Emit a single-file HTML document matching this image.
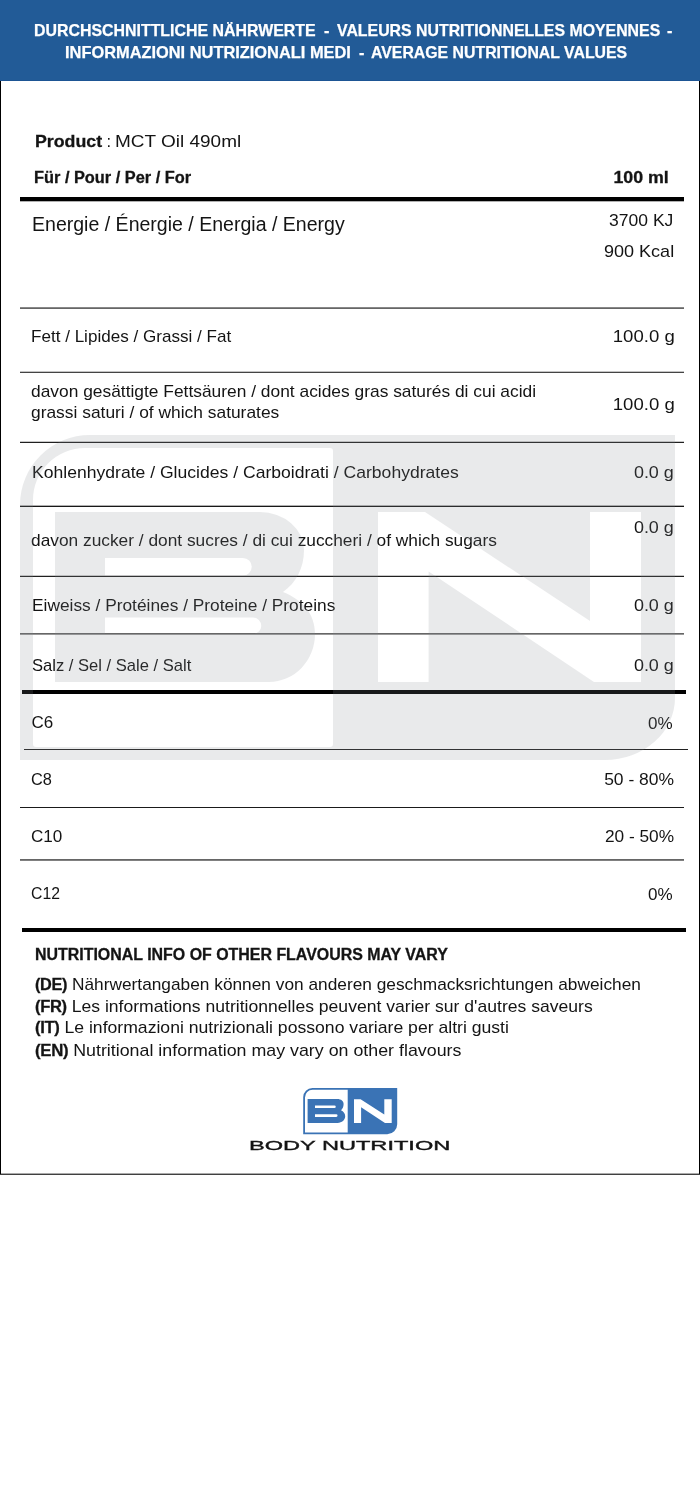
<!DOCTYPE html>
<html lang="de">
<head>
<meta charset="utf-8">
<title>Nährwerte - MCT Oil 490ml</title>
<style>
html,body{margin:0;padding:0;background:#fff;}
body{width:700px;height:1500px;position:relative;overflow:hidden;font-family:"Liberation Sans",Arial,sans-serif;color:#141414;}
.hdr{position:absolute;left:0;top:0;width:700px;height:81px;background:#225b97;box-shadow:inset 0 -1px 0 #1d5594;}
.t{position:absolute;white-space:nowrap;line-height:1;}
.bn{-webkit-text-stroke:0.35px #111;}
.bd{-webkit-text-stroke:0.3px #141414;}
b{-webkit-text-stroke:0.3px #141414;}
.h{color:#fff;-webkit-text-stroke:0.25px #fff;}
.ln{position:absolute;background:#1a1a1a;height:1px;}
.thk{position:absolute;background:#000;}
.wm{position:absolute;left:0;top:0;}
</style>
</head>
<body>
<div style="position:absolute;left:0;top:81px;width:1px;height:1094px;background:#000;"></div>
<div style="position:absolute;left:699px;top:81px;width:1px;height:1094px;background:#000;"></div>
<div style="position:absolute;left:1px;top:1173px;width:698px;height:1px;background:#aaa;"></div>
<div style="position:absolute;left:0;top:1174px;width:700px;height:1px;background:#404040;"></div>
<div class="hdr"></div>
<div class="t h" style="left:34.02px;top:21.99px;font-size:16.2px;font-weight:bold;transform:scaleX(0.9825);transform-origin:0 0;">DURCHSCHNITTLICHE NÄHRWERTE</div>
<div class="t h" style="left:324.00px;top:21.99px;font-size:16.2px;font-weight:bold;">-</div>
<div class="t h" style="left:337.41px;top:21.99px;font-size:16.2px;font-weight:bold;transform:scaleX(0.9802);transform-origin:0 0;">VALEURS NUTRITIONNELLES MOYENNES</div>
<div class="t h" style="left:667.00px;top:21.99px;font-size:16.2px;font-weight:bold;">-</div>
<div class="t h" style="left:64.99px;top:44.19px;font-size:16.2px;font-weight:bold;transform:scaleX(1.0124);transform-origin:0 0;">INFORMAZIONI NUTRIZIONALI MEDI</div>
<div class="t h" style="left:359.00px;top:44.19px;font-size:16.2px;font-weight:bold;">-</div>
<div class="t h" style="left:370.62px;top:44.19px;font-size:16.2px;font-weight:bold;transform:scaleX(0.9788);transform-origin:0 0;">AVERAGE NUTRITIONAL VALUES</div>
<div class="t bd" style="left:35.16px;top:132.61px;font-size:17px;font-weight:bold;transform:scaleX(1.0446);transform-origin:0 0;">Product</div>
<div class="t" style="left:106.60px;top:132.53px;font-size:16.5px;">:</div>
<div class="t" style="left:114.90px;top:132.53px;font-size:16.5px;transform:scaleX(1.1503);transform-origin:0 0;">MCT Oil 490ml</div>
<div class="t bd" style="left:34.44px;top:169.86px;font-size:16px;font-weight:bold;transform:scaleX(1.0219);transform-origin:0 0;">Für / Pour / Per / For</div>
<div class="t bd" style="right:31.29px;top:169.66px;font-size:16px;font-weight:bold;transform:scaleX(1.1115);transform-origin:100% 0;">100 ml</div>
<div class="t" style="left:31.60px;top:215.29px;font-size:19.5px;transform:scaleX(1.0016);transform-origin:0 0;">Energie / Énergie / Energia / Energy</div>
<div class="t" style="right:26.37px;top:211.51px;font-size:17px;transform:scaleX(1.0303);transform-origin:100% 0;">3700 KJ</div>
<div class="t" style="right:25.65px;top:243.21px;font-size:17px;transform:scaleX(1.0618);transform-origin:100% 0;">900 Kcal</div>
<div class="t" style="left:31.30px;top:328.01px;font-size:17px;transform:scaleX(1.0040);transform-origin:0 0;">Fett / Lipides / Grassi / Fat</div>
<div class="t" style="right:25.59px;top:327.71px;font-size:17px;transform:scaleX(1.0921);transform-origin:100% 0;">100.0 g</div>
<div class="t" style="left:31.29px;top:383.11px;font-size:17px;transform:scaleX(1.0219);transform-origin:0 0;">davon gesättigte Fettsäuren / dont acides gras saturés di cui acidi</div>
<div class="t" style="left:31.29px;top:404.31px;font-size:17px;transform:scaleX(1.0224);transform-origin:0 0;">grassi saturi / of which saturates</div>
<div class="t" style="right:25.59px;top:395.51px;font-size:17px;transform:scaleX(1.0921);transform-origin:100% 0;">100.0 g</div>
<div class="t" style="left:32.06px;top:464.01px;font-size:17px;transform:scaleX(1.0335);transform-origin:0 0;">Kohlenhydrate / Glucides / Carboidrati / Carbohydrates</div>
<div class="t" style="right:26.42px;top:463.51px;font-size:17px;transform:scaleX(1.0556);transform-origin:100% 0;">0.0 g</div>
<div class="t" style="left:30.88px;top:532.31px;font-size:17px;transform:scaleX(1.0187);transform-origin:0 0;">davon zucker / dont sucres / di cui zuccheri / of which sugars</div>
<div class="t" style="right:26.42px;top:518.71px;font-size:17px;transform:scaleX(1.0556);transform-origin:100% 0;">0.0 g</div>
<div class="t" style="left:31.57px;top:597.31px;font-size:17px;transform:scaleX(1.0191);transform-origin:0 0;">Eiweiss / Protéines / Proteine / Proteins</div>
<div class="t" style="right:26.42px;top:596.81px;font-size:17px;transform:scaleX(1.0556);transform-origin:100% 0;">0.0 g</div>
<div class="t" style="left:31.62px;top:657.31px;font-size:17px;transform:scaleX(0.9742);transform-origin:0 0;">Salz / Sel / Sale / Salt</div>
<div class="t" style="right:26.42px;top:656.81px;font-size:17px;transform:scaleX(1.0556);transform-origin:100% 0;">0.0 g</div>
<div class="t" style="left:31.40px;top:713.91px;font-size:17px;">C6</div>
<div class="t" style="right:27.28px;top:714.61px;font-size:17px;transform:scaleX(1.0019);transform-origin:100% 0;">0%</div>
<div class="t" style="left:31.43px;top:771.01px;font-size:17px;transform:scaleX(0.9622);transform-origin:0 0;">C8</div>
<div class="t" style="right:26.30px;top:770.51px;font-size:17px;transform:scaleX(1.0275);transform-origin:100% 0;">50 - 80%</div>
<div class="t" style="left:31.37px;top:827.51px;font-size:17px;transform:scaleX(1.0047);transform-origin:0 0;">C10</div>
<div class="t" style="right:26.29px;top:827.61px;font-size:17px;transform:scaleX(1.0152);transform-origin:100% 0;">20 - 50%</div>
<div class="t" style="left:31.46px;top:884.61px;font-size:17px;transform:scaleX(0.9270);transform-origin:0 0;">C12</div>
<div class="t" style="right:27.28px;top:885.61px;font-size:17px;transform:scaleX(1.0019);transform-origin:100% 0;">0%</div>
<div class="t bd" style="left:34.60px;top:947.26px;font-size:16px;font-weight:bold;transform:scaleX(0.9960);transform-origin:0 0;">NUTRITIONAL INFO OF OTHER FLAVOURS MAY VARY</div>
<div class="t" style="left:34.88px;top:975.61px;font-size:17px;transform:scaleX(1.0168);transform-origin:0 0;"><b style="font-size:16px;letter-spacing:-0.3px">(DE)</b> Nährwertangaben können von anderen geschmacksrichtungen abweichen</div>
<div class="t" style="left:34.88px;top:998.21px;font-size:17px;transform:scaleX(1.0336);transform-origin:0 0;"><b style="font-size:16px;letter-spacing:-0.3px">(FR)</b> Les informations nutritionnelles peuvent varier sur d'autres saveurs</div>
<div class="t" style="left:34.88px;top:1019.41px;font-size:17px;transform:scaleX(1.0361);transform-origin:0 0;"><b style="font-size:16px;letter-spacing:-0.3px">(IT)</b> Le informazioni nutrizionali possono variare per altri gusti</div>
<div class="t" style="left:34.88px;top:1041.61px;font-size:17px;transform:scaleX(1.0482);transform-origin:0 0;"><b style="font-size:16px;letter-spacing:-0.3px">(EN)</b> Nutritional information may vary on other flavours</div>
<div class="t bn" style="left:249.11px;top:1139.82px;font-size:12.5px;transform:scaleX(1.8858);transform-origin:0 0;">BODY NUTRITION</div>
<div class="ln" style="left:20px;top:197px;width:664px;height:4px;background:#000;"></div>
<div class="ln" style="left:20px;top:201px;width:664px;height:1px;background:#b0b0b0;"></div>
<div class="ln" style="left:20px;top:307px;width:664px;height:1px;background:#888;"></div>
<div class="ln" style="left:20px;top:308px;width:664px;height:1px;background:#666;"></div>
<div class="ln" style="left:20px;top:371px;width:664px;height:1px;background:#c4c4c4;"></div>
<div class="ln" style="left:20px;top:372px;width:664px;height:1px;background:#444;"></div>
<div class="ln" style="left:20px;top:441px;width:664px;height:1px;background:#c8c8c8;"></div>
<div class="ln" style="left:20px;top:442px;width:664px;height:1px;background:#202020;"></div>
<div class="ln" style="left:20px;top:505px;width:664px;height:1px;background:#b0b0b0;"></div>
<div class="ln" style="left:20px;top:506px;width:664px;height:1px;background:#181818;"></div>
<div class="ln" style="left:20px;top:575px;width:664px;height:1px;background:#c8c8c8;"></div>
<div class="ln" style="left:20px;top:576px;width:664px;height:1px;background:#202020;"></div>
<div class="ln" style="left:20px;top:633px;width:664px;height:1px;background:#666;"></div>
<div class="ln" style="left:20px;top:634px;width:664px;height:1px;background:#999;"></div>
<div class="ln" style="left:22px;top:690px;width:664px;height:4px;background:#000;"></div>
<div class="ln" style="left:24px;top:749px;width:664px;height:1px;background:#202020;"></div>
<div class="ln" style="left:20px;top:807px;width:664px;height:1px;background:#1a1a1a;"></div>
<div class="ln" style="left:20px;top:859px;width:664px;height:1px;background:#666;"></div>
<div class="ln" style="left:20px;top:860px;width:664px;height:1px;background:#808080;"></div>
<div class="ln" style="left:22px;top:928px;width:664px;height:4px;background:#000;"></div>
<svg class="wm" width="700" height="1500" viewBox="0 0 700 1500">
<path fill="rgb(135,138,145)" fill-opacity="0.18" fill-rule="evenodd" d="
M20 505 A70 70 0 0 1 90 435 H675 V698 A70 62 0 0 1 605 760 H20 Z
M33 500 A52 52 0 0 1 85 448 H330 Q333 448 333 451 V744 Q333 747 330 747 H36 Q33 747 33 744 Z
M55 512 H260 A44 38 0 0 1 304 550 C304 568 296 583 283 592 C303 600 315 614 315 634 A46 48 0 0 1 269 682 H55 Z
M105 558 H243 A8.75 8.75 0 0 1 243 575.5 H105 Z
M105 617.5 H253 A8.25 8.25 0 0 1 253 634 H105 Z
M378 512 H425 L590 621 V512 H641 V682 H594 L428.6 571.4 V682 H378 Z
"/>
</svg>
<svg class="wm" width="700" height="1500" viewBox="0 0 700 1500">
<path fill="#3a73b5" fill-rule="evenodd" d="
M303.2 1097.2 A9.2 9.2 0 0 1 312.4 1088 H397.2 V1124.2 A10 10 0 0 1 387.2 1134.2 H303.2 Z
M305 1097.4 A7.6 7.6 0 0 1 312.6 1089.8 H347.7 V1132.4 H305 Z
"/>
<path fill="#3a73b5" fill-rule="evenodd" d="
M307.6 1098.9 H337 C341.5 1098.9 343.6 1101 343.6 1104 C343.6 1106.8 342.5 1109 341 1110.2 C343.5 1111.2 345.2 1113.5 345.2 1116.3 C345.2 1120 342 1122.9 337.5 1122.9 H307.6 Z
M315 1105.4 H334.5 A1.25 1.25 0 0 1 334.5 1107.9 H315 Z
M315 1114.2 H336.2 A1.35 1.35 0 0 1 336.2 1116.9 H315 Z
"/>
<path fill="#fff" d="M354 1099.2 H360.6 L384.3 1114.5 V1099.2 H391.7 V1122.9 H385 L361.1 1107.3 V1122.9 H354 Z"/>
</svg>
</body>
</html>
